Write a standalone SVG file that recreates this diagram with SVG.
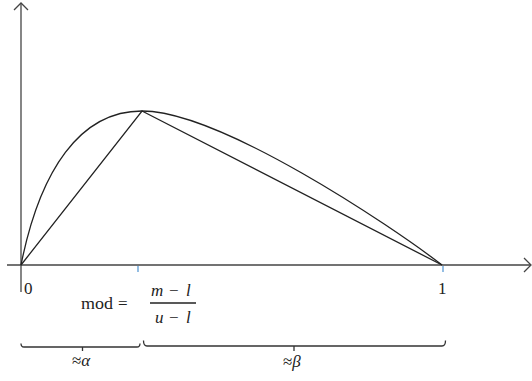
<svg xmlns="http://www.w3.org/2000/svg" width="532" height="381" viewBox="0 0 532 381">
<style>
.ax{stroke:#444;stroke-width:1.3;fill:none}
.ln{stroke:#222;stroke-width:1.3;fill:none}
.tk{stroke:#5b9bd5;stroke-width:1.3;fill:none}
.br{stroke:#333;stroke-width:1.3;fill:none}
text{font-family:"Liberation Serif","Times New Roman",serif;font-size:17px;fill:#222}
.it{font-style:italic}
</style>
<g id="axes">
<path class="ax" d="M21,3 V292"/>
<path class="ax" d="M14,10 L21,3 L28,10"/>
<path class="ax" d="M7,265 H530"/>
<path class="ax" d="M524,258 L531,265 L524,272"/>
<path class="tk" d="M138,266 V272 M443,266 V272"/>
</g>
<g id="curves">
<path class="ln" d="M21,265 C40,170 80,111 142,111 C220,111 390,225 442,265"/>
<path class="ln" d="M21,265 L142,111 L442,265"/>
</g>
<g id="labels">
<text x="24" y="294">0</text>
<text x="438" y="294">1</text>
<text x="81" y="309" textLength="32" lengthAdjust="spacingAndGlyphs">mod</text>
<text x="118" y="309">=</text>
<text x="151" y="296" class="it">m</text>
<text x="169" y="296">−</text>
<text x="186" y="296" class="it">l</text>
<path class="ln" d="M150,303 H196"/>
<text x="155" y="323" class="it">u</text>
<text x="169" y="323">−</text>
<text x="186" y="323" class="it">l</text>
</g>
<g id="braces">
<path class="br" d="M21,343.5 Q21,347 24,347 H137 Q140,347 140,343.5 M82.5,347 V351"/>
<path class="br" d="M143.5,340.5 Q143.5,346 147,346 H442 Q445.5,346 445.5,340.5 M294,346 V351"/>
<text x="72" y="366">≈<tspan class="it">α</tspan></text>
<text x="283" y="367">≈<tspan class="it">β</tspan></text>
</g>
</svg>
